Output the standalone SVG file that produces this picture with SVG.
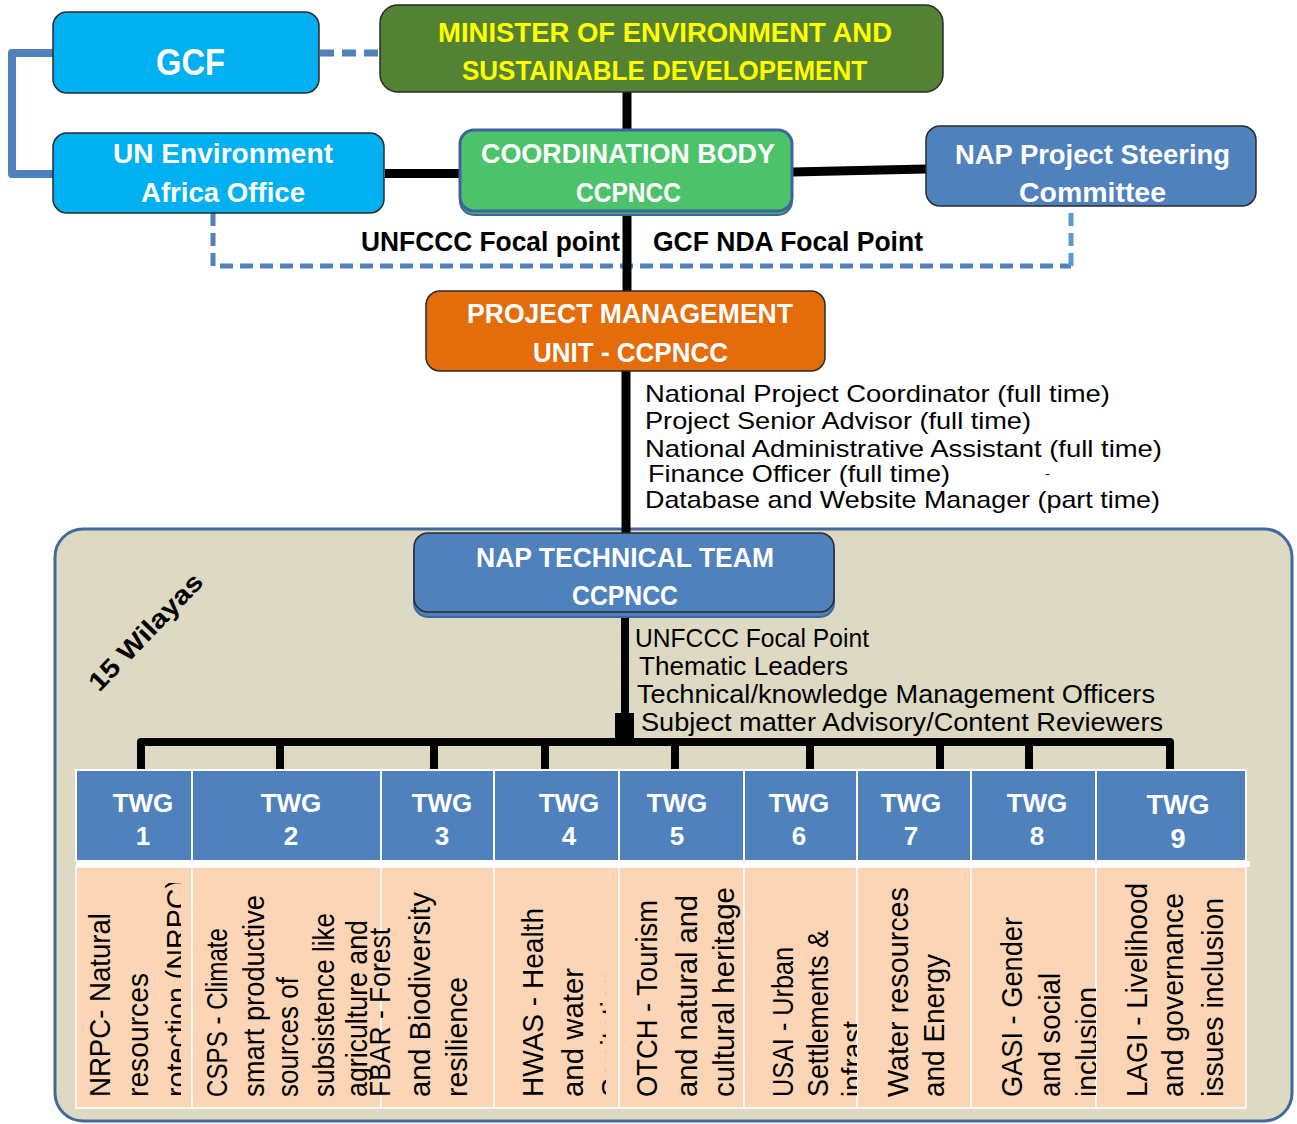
<svg xmlns="http://www.w3.org/2000/svg" width="1297" height="1124" viewBox="0 0 1297 1124">
<style>
.bx{stroke:#2a2a2a;stroke-width:1.5}
.wb{font-family:"Liberation Sans",Arial,sans-serif;font-weight:bold;fill:#ffffff}
.yb{font-family:"Liberation Sans",Arial,sans-serif;font-weight:bold;fill:#ffff00}
.kb{font-family:"Liberation Sans",Arial,sans-serif;font-weight:bold;fill:#000000}
.kn{font-family:"Liberation Sans",Arial,sans-serif;fill:#000000}
.hd{fill:#4f81bd;stroke:#ffffff;stroke-width:2}
.bd{fill:#fbd5b5;stroke:#ffffff;stroke-width:1.5}
.blk{stroke:#000000;fill:none}
.dash{stroke:#4f81bd;fill:none;stroke-width:5;stroke-dasharray:13 7}
</style>
<defs>
<clipPath id="c1"><rect x="76" y="883" width="105" height="225"/></clipPath>
<clipPath id="c4"><rect x="494" y="866" width="112" height="242"/></clipPath>
<clipPath id="c6"><rect x="744" y="866" width="113" height="242"/></clipPath>
<clipPath id="c8"><rect x="971" y="866" width="125" height="242"/></clipPath>
</defs>

<g id="container">
<rect x="55" y="529" width="1237" height="592" rx="28" fill="#ddd9c3" stroke="#41689f" stroke-width="3"/>
<text class="kb" font-size="26" text-anchor="middle" textLength="152" lengthAdjust="spacingAndGlyphs" transform="translate(152,638) rotate(-46)">15 Wilayas</text>
</g>

<g id="connectors">
<path class="dash" d="M213,213 V266 H1071"/>
<path d="M1071,266 V206" stroke="#5b9bd5" stroke-width="5" stroke-dasharray="13 7" fill="none"/>
<path d="M320,53 H380" stroke="#4f81bd" stroke-width="7" stroke-dasharray="14 8" fill="none"/>
<path d="M53,53 H12 V174 H53" stroke="#4f81bd" stroke-width="8" fill="none" stroke-linejoin="round"/>
<path class="blk" stroke-width="9" d="M627,92 V130"/>
<path class="blk" stroke-width="9" d="M385,173.5 H460"/>
<path class="blk" stroke-width="9" d="M792,172 L926,169"/>
<path class="blk" stroke-width="9" d="M627,213 V291"/>
<path class="blk" stroke-width="9" d="M626,371 V533"/>
<path class="blk" stroke-width="8" d="M625,615 V742"/>
<rect x="615" y="713" width="19" height="33" fill="#000000"/>
<path class="blk" stroke-width="8" stroke-linejoin="round" d="M141,770 V742 H1170 V770"/>
<path class="blk" stroke-width="8" d="M280,742 V770 M434,742 V770 M545,742 V770 M675,742 V770 M810,742 V770 M940,742 V770 M1029,742 V770"/>
</g>

<g id="gcf">
<rect class="bx" x="53" y="12" width="266" height="81" rx="14" fill="#00b0f0"/>
<text class="wb" x="156" y="75" font-size="36" textLength="69" lengthAdjust="spacingAndGlyphs">GCF</text>
</g>

<g id="minister">
<rect class="bx" x="380" y="5" width="563" height="87" rx="18" fill="#548235"/>
<text class="yb" x="438" y="42" font-size="27" textLength="454" lengthAdjust="spacingAndGlyphs">MINISTER OF ENVIRONMENT AND</text>
<text class="yb" x="462" y="80" font-size="27" textLength="405" lengthAdjust="spacingAndGlyphs">SUSTAINABLE DEVELOPEMENT</text>
</g>

<g id="un-env">
<rect class="bx" x="53" y="133" width="331" height="80" rx="14" fill="#00b0f0"/>
<text class="wb" x="113" y="163" font-size="27" textLength="220" lengthAdjust="spacingAndGlyphs">UN Environment</text>
<text class="wb" x="141" y="202" font-size="27" textLength="164" lengthAdjust="spacingAndGlyphs">Africa Office</text>
</g>

<g id="coordination">
<rect x="460" y="134" width="332" height="81" rx="14" fill="#45b863" stroke="#3e64a0" stroke-width="2"/>
<rect x="460" y="130" width="332" height="81" rx="14" fill="#4cc36a" stroke="#3e64a0" stroke-width="3"/>
<text class="wb" x="481" y="163" font-size="27" textLength="294" lengthAdjust="spacingAndGlyphs">COORDINATION BODY</text>
<text class="wb" x="576" y="202" font-size="27" textLength="105" lengthAdjust="spacingAndGlyphs">CCPNCC</text>
</g>

<g id="steering">
<rect class="bx" x="926" y="126" width="330" height="80" rx="14" fill="#4f81bd"/>
<text class="wb" x="955" y="164" font-size="27" textLength="275" lengthAdjust="spacingAndGlyphs">NAP Project Steering</text>
<text class="wb" x="1019" y="202" font-size="27" textLength="147" lengthAdjust="spacingAndGlyphs">Committee</text>
</g>

<g id="focal-labels">
<text class="kb" x="361" y="251" font-size="27" textLength="259" lengthAdjust="spacingAndGlyphs">UNFCCC Focal point</text>
<text class="kb" x="653" y="251" font-size="27" textLength="270" lengthAdjust="spacingAndGlyphs">GCF NDA Focal Point</text>
</g>

<g id="pmu">
<rect class="bx" x="426" y="291" width="399" height="80" rx="14" fill="#e46c0a"/>
<text class="wb" x="467" y="323" font-size="27" textLength="326" lengthAdjust="spacingAndGlyphs">PROJECT MANAGEMENT</text>
<text class="wb" x="533" y="362" font-size="27" textLength="195" lengthAdjust="spacingAndGlyphs">UNIT - CCPNCC</text>
</g>

<g id="pmu-staff">
<text class="kn" x="645" y="402" font-size="24" textLength="465" lengthAdjust="spacingAndGlyphs">National Project Coordinator (full time)</text>
<text class="kn" x="645" y="429" font-size="24" textLength="386" lengthAdjust="spacingAndGlyphs">Project Senior Advisor (full time)</text>
<text class="kn" x="645" y="457" font-size="24" textLength="517" lengthAdjust="spacingAndGlyphs">National Administrative Assistant (full time)</text>
<text class="kn" x="648" y="482" font-size="24" textLength="302" lengthAdjust="spacingAndGlyphs">Finance Officer (full time)</text>
<text class="kn" x="1045" y="479" font-size="14">-</text>
<text class="kn" x="645" y="508" font-size="24" textLength="515" lengthAdjust="spacingAndGlyphs">Database and Website Manager (part time)</text>
</g>

<g id="nap-team">
<rect x="414" y="538" width="420" height="79" rx="14" fill="#4f81bd" stroke="#3e64a0" stroke-width="2"/>
<rect class="bx" x="414" y="533" width="420" height="79" rx="14" fill="#4f81bd"/>
<text class="wb" x="476" y="567" font-size="27" textLength="298" lengthAdjust="spacingAndGlyphs">NAP TECHNICAL TEAM</text>
<text class="wb" x="572" y="605" font-size="27" textLength="106" lengthAdjust="spacingAndGlyphs">CCPNCC</text>
</g>

<g id="team-members">
<text class="kn" x="635" y="647" font-size="25" textLength="234" lengthAdjust="spacingAndGlyphs">UNFCCC Focal Point</text>
<text class="kn" x="639" y="675" font-size="25" textLength="209" lengthAdjust="spacingAndGlyphs">Thematic Leaders</text>
<text class="kn" x="637" y="703" font-size="25" textLength="518" lengthAdjust="spacingAndGlyphs">Technical/knowledge Management Officers</text>
<text class="kn" x="641" y="731" font-size="25" textLength="522" lengthAdjust="spacingAndGlyphs">Subject matter Advisory/Content Reviewers</text>
</g>

<g id="twg-table">
<rect x="76" y="861" width="1174" height="6" fill="#ffffff"/>
<rect class="hd" x="76" y="770" width="116" height="91"/>
<rect class="hd" x="192" y="770" width="189" height="91"/>
<rect class="hd" x="381" y="770" width="113" height="91"/>
<rect class="hd" x="494" y="770" width="125" height="91"/>
<rect class="hd" x="619" y="770" width="125" height="91"/>
<rect class="hd" x="744" y="770" width="113" height="91"/>
<rect class="hd" x="857" y="770" width="114" height="91"/>
<rect class="hd" x="971" y="770" width="125" height="91"/>
<rect class="hd" x="1096" y="770" width="150" height="91"/>
<rect class="bd" x="76" y="867" width="116" height="241"/>
<rect class="bd" x="192" y="867" width="189" height="241"/>
<rect class="bd" x="381" y="867" width="113" height="241"/>
<rect class="bd" x="494" y="867" width="125" height="241"/>
<rect class="bd" x="619" y="867" width="125" height="241"/>
<rect class="bd" x="744" y="867" width="113" height="241"/>
<rect class="bd" x="857" y="867" width="114" height="241"/>
<rect class="bd" x="971" y="867" width="125" height="241"/>
<rect class="bd" x="1096" y="867" width="150" height="241"/>
</g>

<g id="twg1">
<text class="wb" x="143" y="812" font-size="26" text-anchor="middle">TWG</text>
<text class="wb" x="143" y="845" font-size="26" text-anchor="middle">1</text>
<text class="kn" font-size="30" textLength="184" lengthAdjust="spacingAndGlyphs" transform="translate(110,1097) rotate(-90)">NRPC- Natural</text>
<text class="kn" font-size="30" textLength="124" lengthAdjust="spacingAndGlyphs" transform="translate(148,1097) rotate(-90)">resources</text>
<g clip-path="url(#c1)"><text class="kn" font-size="30" textLength="218" lengthAdjust="spacingAndGlyphs" transform="translate(187,1097) rotate(-90)">rotection (NRPC)</text></g>
</g>

<g id="twg2">
<text class="wb" x="291" y="812" font-size="26" text-anchor="middle">TWG</text>
<text class="wb" x="291" y="845" font-size="26" text-anchor="middle">2</text>
<text class="kn" font-size="30" textLength="169" lengthAdjust="spacingAndGlyphs" transform="translate(227,1097) rotate(-90)">CSPS - Climate</text>
<text class="kn" font-size="30" textLength="202" lengthAdjust="spacingAndGlyphs" transform="translate(264,1097) rotate(-90)">smart productive</text>
<text class="kn" font-size="30" textLength="120" lengthAdjust="spacingAndGlyphs" transform="translate(298,1097) rotate(-90)">sources of</text>
<text class="kn" font-size="30" textLength="184" lengthAdjust="spacingAndGlyphs" transform="translate(334,1097) rotate(-90)">subsistence like</text>
<text class="kn" font-size="30" textLength="177" lengthAdjust="spacingAndGlyphs" transform="translate(367,1097) rotate(-90)">agriculture and</text>
</g>

<g id="twg3">
<text class="wb" x="442" y="812" font-size="26" text-anchor="middle">TWG</text>
<text class="wb" x="442" y="845" font-size="26" text-anchor="middle">3</text>
<text class="kn" font-size="30" textLength="169" lengthAdjust="spacingAndGlyphs" transform="translate(390,1097) rotate(-90)">FBAR - Forest</text>
<text class="kn" font-size="30" textLength="205" lengthAdjust="spacingAndGlyphs" transform="translate(430,1097) rotate(-90)">and Biodiversity</text>
<text class="kn" font-size="30" textLength="120" lengthAdjust="spacingAndGlyphs" transform="translate(467,1097) rotate(-90)">resilience</text>
</g>

<g id="twg4">
<text class="wb" x="569" y="812" font-size="26" text-anchor="middle">TWG</text>
<text class="wb" x="569" y="845" font-size="26" text-anchor="middle">4</text>
<text class="kn" font-size="30" textLength="189" lengthAdjust="spacingAndGlyphs" transform="translate(543,1097) rotate(-90)">HWAS - Health</text>
<text class="kn" font-size="30" textLength="129" lengthAdjust="spacingAndGlyphs" transform="translate(583,1097) rotate(-90)">and water</text>
<g clip-path="url(#c4)"><text class="kn" font-size="30" textLength="128" lengthAdjust="spacingAndGlyphs" transform="translate(622,1097) rotate(-90)">Sanitation</text></g>
</g>

<g id="twg5">
<text class="wb" x="677" y="812" font-size="26" text-anchor="middle">TWG</text>
<text class="wb" x="677" y="845" font-size="26" text-anchor="middle">5</text>
<text class="kn" font-size="30" textLength="197" lengthAdjust="spacingAndGlyphs" transform="translate(657,1097) rotate(-90)">OTCH - Tourism</text>
<text class="kn" font-size="30" textLength="202" lengthAdjust="spacingAndGlyphs" transform="translate(697,1097) rotate(-90)">and natural and</text>
<text class="kn" font-size="30" textLength="210" lengthAdjust="spacingAndGlyphs" transform="translate(734,1097) rotate(-90)">cultural heritage</text>
</g>

<g id="twg6">
<text class="wb" x="799" y="812" font-size="26" text-anchor="middle">TWG</text>
<text class="wb" x="799" y="845" font-size="26" text-anchor="middle">6</text>
<text class="kn" font-size="30" textLength="150" lengthAdjust="spacingAndGlyphs" transform="translate(793,1097) rotate(-90)">USAI - Urban</text>
<text class="kn" font-size="30" textLength="167" lengthAdjust="spacingAndGlyphs" transform="translate(828,1097) rotate(-90)">Settlements &amp;</text>
<g clip-path="url(#c6)"><text class="kn" font-size="30" textLength="76" lengthAdjust="spacingAndGlyphs" transform="translate(863,1097) rotate(-90)">infrast</text></g>
</g>

<g id="twg7">
<text class="wb" x="911" y="812" font-size="26" text-anchor="middle">TWG</text>
<text class="wb" x="911" y="845" font-size="26" text-anchor="middle">7</text>
<text class="kn" font-size="30" textLength="210" lengthAdjust="spacingAndGlyphs" transform="translate(908,1097) rotate(-90)">Water resources</text>
<text class="kn" font-size="30" textLength="143" lengthAdjust="spacingAndGlyphs" transform="translate(944,1097) rotate(-90)">and Energy</text>
</g>

<g id="twg8">
<text class="wb" x="1037" y="812" font-size="26" text-anchor="middle">TWG</text>
<text class="wb" x="1037" y="845" font-size="26" text-anchor="middle">8</text>
<text class="kn" font-size="30" textLength="180" lengthAdjust="spacingAndGlyphs" transform="translate(1022,1097) rotate(-90)">GASI - Gender</text>
<text class="kn" font-size="30" textLength="124" lengthAdjust="spacingAndGlyphs" transform="translate(1060,1097) rotate(-90)">and social</text>
<g clip-path="url(#c8)"><text class="kn" font-size="30" textLength="110" lengthAdjust="spacingAndGlyphs" transform="translate(1097,1097) rotate(-90)">inclusion</text></g>
</g>

<g id="twg9">
<text class="wb" x="1178" y="814" font-size="27" text-anchor="middle">TWG</text>
<text class="wb" x="1178" y="848" font-size="27" text-anchor="middle">9</text>
<text class="kn" font-size="30" textLength="214" lengthAdjust="spacingAndGlyphs" transform="translate(1147,1097) rotate(-90)">LAGI - Livelihood</text>
<text class="kn" font-size="30" textLength="204" lengthAdjust="spacingAndGlyphs" transform="translate(1183,1097) rotate(-90)">and governance</text>
<text class="kn" font-size="30" textLength="199" lengthAdjust="spacingAndGlyphs" transform="translate(1223,1097) rotate(-90)">issues inclusion</text>
</g>
</svg>
